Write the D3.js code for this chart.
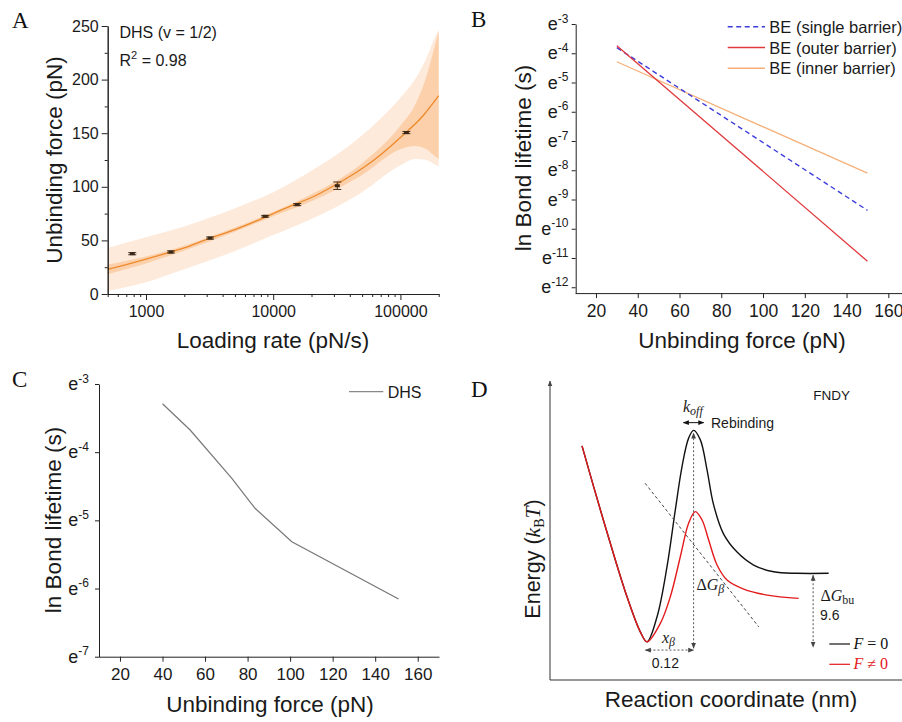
<!DOCTYPE html>
<html><head><meta charset="utf-8">
<script src="https://cdn.jsdelivr.net/npm/d3@7"></script>
<style>
body{margin:0;background:#fff}
svg{display:block}
text{font-family:Arial,"Liberation Sans",sans-serif;fill:#1a1a1a}
</style>
</head><body>
<svg id="c" width="902" height="722"></svg>
<script>
// ---------------- DATA ----------------
// Panel A: loading rate vs unbinding force
const loadingRate = [780, 1570, 3190, 8650, 15450, 31900, 111500];
const unbindingForce = [37.6, 39.2, 52.2, 72.5, 83.4, 101, 150.6];
const forceErr = [1, 1, 1, 0.8, 1, 3.5, 1];
const fitRate = [500,700,1000,1500,2000,3000,5000,7000,10000,15000,20000,30000,50000,70000,100000,150000,200000];
const fitForce = [23,27.5,32.5,38.5,43,51,60,67,75,84,90,101,117,130,146,166,185];
const bandRate = [500,1000,2000,5000,10000,20000,50000,100000,130000,160000,185000,200000];
const confLow  = [18.5,28.5,40.5,58,72.5,86.5,111,135,138,135,129,126];
const confHigh = [27.5,35,45,62,76.5,93,122,157,176,203,230,245];
const predLow  = [3,11,23,40,55,70,95,120,126,125,121,119];
const predHigh = [43,53,63,80,95,115,148,183,200,220,238,247];
const aYTicks = [0,50,100,150,200,250];
const aXTicks = [1000,10000,100000];

// Panel B: ln bond lifetime vs force, Bell-Evans fits
const beForce = [30, 150];
const beSingle = [-3.81, -9.37];
const beOuter = [-3.74, -11.11];
const beInner = [-4.29, -8.10];
const bSeries = ["BE (single barrier)", "BE (outer barrier)", "BE (inner barrier)"];
const bYTicks = [-3,-4,-5,-6,-7,-8,-9,-10,-11,-12];
const forceTicks = [20,40,60,80,100,120,140,160];

// Panel C: DHS lifetime
const dhsForce = [40, 53, 72.6, 83.5, 100.8, 151];
const dhsLnLife = [-3.29, -3.675, -4.383, -4.823, -5.313, -6.154];
const cYTicks = [-3,-4,-5,-6,-7];

// Panel D: energy landscape schematic (reaction coordinate nm, energy kBT)
const wellX = [-0.1675,-0.1376,-0.0946,-0.0515,-0.0173,0];
const wellE = [26.2,20.75,13.17,6.02,1.34,0];
const f0X = [0.0258,0.0515,0.0729,0.0902,0.1072,0.12,0.1374,0.1546,0.1716,0.1974,0.232,0.2747,0.3263,0.3866,0.468];
const f0E = [3.35,10.04,17.63,23.43,27.23,28.27,27.0,22.99,18.3,14.4,12.0,10.27,9.37,9.16,9.16];
const fX = [0.0343,0.06,0.0858,0.1072,0.1245,0.1418,0.1588,0.1804,0.2062,0.249,0.3093,0.3907];
const fE = [2.46,6.02,11.38,15.85,17.4,16.29,13.61,10.27,8.26,7.05,6.25,5.81];
const xBeta = 0.12, dGbu = 9.6;

// ---------------- DRAW ----------------
const svg = d3.select("#c");
const defs = svg.append("defs");
function marker(id, color, size){
  defs.append("marker").attr("id",id).attr("viewBox","0 0 10 10")
    .attr("refX",9).attr("refY",5).attr("markerWidth",size).attr("markerHeight",size)
    .attr("markerUnits","userSpaceOnUse").attr("orient","auto-start-reverse")
    .append("path").attr("d","M0,1L10,5L0,9z").attr("fill",color);
}
marker("arrG","#444",6);
marker("arrK","#111",6);

const serif = "'Liberation Serif','Times New Roman',serif";
function letter(t,x,y){ svg.append("text").attr("x",x).attr("y",y).style("font-family",serif).style("font-size","23px").style("fill","#111").text(t); }
function styleAxis(g, fs){
  g.selectAll("path.domain").attr("stroke","#222");
  g.selectAll("line").attr("stroke","#222");
  g.selectAll("text").style("font-size",fs+"px").style("font-family","Arial,'Liberation Sans',sans-serif").attr("fill","#1a1a1a");
}
function label(x,y,t,fs,rot){
  const el = svg.append("text").attr("text-anchor","middle").style("font-size",fs+"px")
    .attr("transform",`translate(${x},${y})`+(rot?" rotate(-90)":"")).text(t);
  return el;
}

// ===== Panel A =====
letter("A",12,28);
const xA = d3.scaleLog().domain([500,200000]).range([107.7,438.7]);
const yA = d3.scaleLinear().domain([0,250]).range([294,26]);
const idxB = d3.range(bandRate.length);
svg.append("path").datum(idxB)
  .attr("d", d3.area().curve(d3.curveMonotoneX).x(i=>xA(bandRate[i])).y0(i=>yA(predLow[i])).y1(i=>yA(predHigh[i])))
  .attr("fill","#fdeadb");
svg.append("path").datum(idxB)
  .attr("d", d3.area().curve(d3.curveMonotoneX).x(i=>xA(bandRate[i])).y0(i=>yA(confLow[i])).y1(i=>yA(confHigh[i])))
  .attr("fill","#fbd0aa");
svg.append("path").datum(d3.range(fitRate.length))
  .attr("d", d3.line().curve(d3.curveMonotoneX).x(i=>xA(fitRate[i])).y(i=>yA(fitForce[i])))
  .attr("fill","none").attr("stroke","#ee8a2c").attr("stroke-width",1.3);
// data points with error bars
const pts = svg.append("g");
loadingRate.forEach((r,i)=>{
  const x = xA(r), y0 = yA(unbindingForce[i]-forceErr[i]), y1 = yA(unbindingForce[i]+forceErr[i]);
  pts.append("line").attr("x1",x).attr("x2",x).attr("y1",y0).attr("y2",y1).attr("stroke","#4a3420").attr("stroke-width",1);
  [y0,y1].forEach(yy=>pts.append("line").attr("x1",x-4).attr("x2",x+4).attr("y1",yy).attr("y2",yy).attr("stroke","#4a3420").attr("stroke-width",1));
  pts.append("rect").attr("x",x-2.5).attr("y",yA(unbindingForce[i])-1.5).attr("width",5).attr("height",3).attr("fill","#3a2816");
});
// axes A
let g = svg.append("g").attr("transform","translate(107.7,0)")
  .call(d3.axisLeft(yA).tickValues(aYTicks).tickSize(6).tickSizeOuter(0).tickPadding(3));
styleAxis(g,16);
g = svg.append("g").attr("transform","translate(107.7,0)")
  .call(d3.axisLeft(yA).tickValues(d3.range(25,250,50)).tickSize(3).tickSizeOuter(0).tickFormat(""));
styleAxis(g,16);
g = svg.append("g").attr("transform","translate(0,294)")
  .call(d3.axisBottom(xA).tickValues(aXTicks).tickFormat(d3.format("d")).tickSize(6).tickSizeOuter(0).tickPadding(5.5));
styleAxis(g,16);
const minorA = [];
[100,1000,10000,100000].forEach(dec=>{ for(let k=2;k<=9;k++){ const v=dec*k; if(v>=500 && v<=200000 && !aXTicks.includes(v)) minorA.push(v);} });
g = svg.append("g").attr("transform","translate(0,294)")
  .call(d3.axisBottom(xA).tickValues(minorA).tickFormat("").tickSize(3).tickSizeOuter(0));
styleAxis(g,16);
svg.append("text").attr("x",119.5).attr("y",38).style("font-size","16px").text("DHS (v = 1/2)");
const r2 = svg.append("text").attr("x",119.5).attr("y",66).style("font-size","16px");
r2.append("tspan").text("R");
r2.append("tspan").attr("dy",-7).style("font-size","11px").text("2");
r2.append("tspan").attr("dy",7).text(" = 0.98");
label(61.5,160,"Unbinding force (pN)",22.5,true);
label(273,348.3,"Loading rate (pN/s)",22.5,false);

// ===== Panel B =====
letter("B",471,27);
const xB = d3.scaleLinear().domain([10,170]).range([575.1,909.2]);
const yB = d3.scaleLinear().domain([-12.2,-3]).range([293.1,24]);
function expTicks(g, scale, ticks, x){
  ticks.forEach(t=>{
    const tx = g.append("text").attr("text-anchor","end").attr("x",x).attr("y",scale(t)+6).style("font-size","18px");
    tx.append("tspan").text("e");
    tx.append("tspan").attr("dy",-7.5).style("font-size","12px").text(String(t));
  });
}
g = svg.append("g").attr("transform","translate(575.7,0)")
  .call(d3.axisLeft(yB).tickValues(bYTicks).tickSize(4).tickSizeOuter(0).tickFormat(""));
styleAxis(g,17);
expTicks(svg.append("g"), yB, bYTicks, 568.5);
g = svg.append("g").attr("transform","translate(0,293.1)")
  .call(d3.axisBottom(xB).tickValues(forceTicks).tickSize(5).tickSizeOuter(0).tickPadding(6));
styleAxis(g,17.5);
const bCols = ["#3c3cdc","#e0383c","#f5b07a"];
const bData = [beSingle, beOuter, beInner];
const lineB = d3.line().x((d,i)=>xB(beForce[i])).y(d=>yB(d));
[2,0,1].forEach(k=>{
  svg.append("path").datum(bData[k]).attr("d",lineB).attr("fill","none")
    .attr("stroke",bCols[k]).attr("stroke-width",k===0?1.4:1.3)
    .attr("stroke-dasharray",k===0?"5,3.5":null);
});
bSeries.forEach((s,k)=>{
  const yy = 26.7 + k*20.8;
  svg.append("line").attr("x1",727.7).attr("x2",765).attr("y1",yy).attr("y2",yy)
    .attr("stroke",bCols[k]).attr("stroke-width",1.4).attr("stroke-dasharray",k===0?"5,3.5":null);
  svg.append("text").attr("x",769.3).attr("y",yy+6).style("font-size","16.5px").text(s);
});
label(531,158,"ln Bond lifetime (s)",22.5,true);
label(742,348.3,"Unbinding force (pN)",22.5,false);

// ===== Panel C =====
letter("C",12,387);
const xC = d3.scaleLinear().domain([10,170]).range([98.7,439]);
const yC = d3.scaleLinear().domain([-7,-3]).range([656.7,384]);
g = svg.append("g").attr("transform","translate(99,0)")
  .call(d3.axisLeft(yC).tickValues(cYTicks).tickSize(4).tickSizeOuter(0).tickFormat(""));
styleAxis(g,17);
expTicks(svg.append("g"), yC, cYTicks, 89);
g = svg.append("g").attr("transform","translate(0,656.7)")
  .call(d3.axisBottom(xC).tickValues(forceTicks).tickSize(5).tickSizeOuter(0).tickPadding(6));
styleAxis(g,17);
svg.append("path").datum(dhsLnLife)
  .attr("d", d3.line().x((d,i)=>xC(dhsForce[i])).y(d=>yC(d)))
  .attr("fill","none").attr("stroke","#777").attr("stroke-width",1.2);
svg.append("line").attr("x1",349).attr("x2",383.3).attr("y1",391.7).attr("y2",391.7).attr("stroke","#888").attr("stroke-width",1.2);
svg.append("text").attr("x",387.7).attr("y",397.5).style("font-size","16px").text("DHS");
label(61,520,"ln Bond lifetime (s)",22.5,true);
label(270,711.7,"Unbinding force (pN)",22.5,false);

// ===== Panel D =====
letter("D",471,397);
const xD = d3.scaleLinear().domain([-0.25,0.657]).range([550,902]);
const yD = d3.scaleLinear().domain([-5.1,34.6]).range([680,383]);
// axes
svg.append("line").attr("x1",550).attr("x2",550).attr("y1",680).attr("y2",381).attr("stroke","#333").attr("stroke-width",1).attr("marker-end","url(#arrG)");
svg.append("line").attr("x1",550).attr("x2",902).attr("y1",680).attr("y2",680).attr("stroke","#333").attr("stroke-width",1.2);
const curveD = d3.line().curve(d3.curveCatmullRom.alpha(0.5)).x(d=>xD(d[0])).y(d=>yD(d[1]));
const blackPts = wellX.map((x,i)=>[x,wellE[i]]).concat(f0X.map((x,i)=>[x,f0E[i]]));
const redPts = wellX.map((x,i)=>[x,wellE[i]]).concat(fX.map((x,i)=>[x,fE[i]]));
svg.append("path").datum(blackPts).attr("d",curveD).attr("fill","none").attr("stroke","#111").attr("stroke-width",1.4);
svg.append("path").datum(redPts).attr("d",curveD).attr("fill","none").attr("stroke","#e31a1c").attr("stroke-width",1.4);
// force tilt line
svg.append("line").attr("x1",xD(-0.005)).attr("y1",yD(21.2)).attr("x2",xD(0.288)).attr("y2",yD(2.0))
  .attr("stroke","#444").attr("stroke-width",1).attr("stroke-dasharray","3,2.5");
// vertical dotted arrow at barrier
svg.append("line").attr("x1",xD(xBeta)).attr("x2",xD(xBeta)).attr("y1",yD(-0.85)).attr("y2",yD(27.9))
  .attr("stroke","#555").attr("stroke-width",1).attr("stroke-dasharray","2,2")
  .attr("marker-start","url(#arrG)").attr("marker-end","url(#arrG)");
// x_beta arrow
svg.append("line").attr("x1",xD(-0.004)).attr("x2",xD(xBeta)).attr("y1",yD(-1.1)).attr("y2",yD(-1.1))
  .attr("stroke","#555").attr("stroke-width",1).attr("stroke-dasharray","2,2")
  .attr("marker-start","url(#arrG)").attr("marker-end","url(#arrG)");
// dGbu arrow
svg.append("line").attr("x1",xD(0.428)).attr("x2",xD(0.428)).attr("y1",yD(8.9)).attr("y2",yD(-0.7))
  .attr("stroke","#555").attr("stroke-width",1).attr("stroke-dasharray","2,2")
  .attr("marker-start","url(#arrG)").attr("marker-end","url(#arrG)");
// koff arrow
svg.append("line").attr("x1",xD(0.094)).attr("x2",xD(0.146)).attr("y1",yD(29.3)).attr("y2",yD(29.3))
  .attr("stroke","#111").attr("stroke-width",1)
  .attr("marker-start","url(#arrK)").attr("marker-end","url(#arrK)");
// labels
let t = svg.append("text").attr("x",683).attr("y",411.5).style("font-family",serif).style("font-style","italic").style("font-size","16px");
t.append("tspan").text("k");
t.append("tspan").attr("dy",3).style("font-size","12px").text("off");
svg.append("text").attr("x",711).attr("y",428.3).style("font-size","14px").text("Rebinding");
svg.append("text").attr("x",813.3).attr("y",400).style("font-size","13.5px").text("FNDY");
t = svg.append("text").attr("x",696.5).attr("y",590).style("font-family",serif).style("font-size","16px");
t.append("tspan").text("Δ");
t.append("tspan").style("font-style","italic").text("G");
t.append("tspan").attr("dy",3).style("font-style","italic").style("font-size","12px").text("β");
t = svg.append("text").attr("x",662).attr("y",643.3).style("font-family",serif).style("font-size","16px");
t.append("tspan").style("font-style","italic").text("x");
t.append("tspan").attr("dy",3).style("font-style","italic").style("font-size","12px").text("β");
svg.append("text").attr("x",651.7).attr("y",668.3).style("font-size","14px").text(String(xBeta));
t = svg.append("text").attr("x",820.5).attr("y",601).style("font-family",serif).style("font-size","16px");
t.append("tspan").text("Δ");
t.append("tspan").style("font-style","italic").text("G");
t.append("tspan").attr("dy",3).style("font-size","12px").text("bu");
svg.append("text").attr("x",820).attr("y",620).style("font-size","14px").text(String(dGbu));
// legend D
[["#111","F = 0",644],["#e31a1c","F ≠ 0",664.3]].forEach(([c,s,yy])=>{
  svg.append("line").attr("x1",829.3).attr("x2",850).attr("y1",yy).attr("y2",yy).attr("stroke",c).attr("stroke-width",1.2);
  const tt = svg.append("text").attr("x",853.5).attr("y",yy+4.5).style("font-family",serif).style("font-size","16px").style("fill",c);
  tt.append("tspan").style("font-style","italic").style("fill",c).text("F");
  tt.append("tspan").style("fill",c).text(s.slice(1));
});
// axis titles D
t = svg.append("text").attr("text-anchor","middle").attr("transform","translate(540,559) rotate(-90)").style("font-size","21.5px");
t.append("tspan").text("Energy (");
t.append("tspan").style("font-family",serif).style("font-style","italic").text("k");
t.append("tspan").attr("dy",4).style("font-family",serif).style("font-size","14px").text("B");
t.append("tspan").attr("dy",-4).style("font-family",serif).style("font-style","italic").text("T");
t.append("tspan").text(")");
label(731,706.7,"Reaction coordinate (nm)",22.5,false);
</script>
</body></html>
